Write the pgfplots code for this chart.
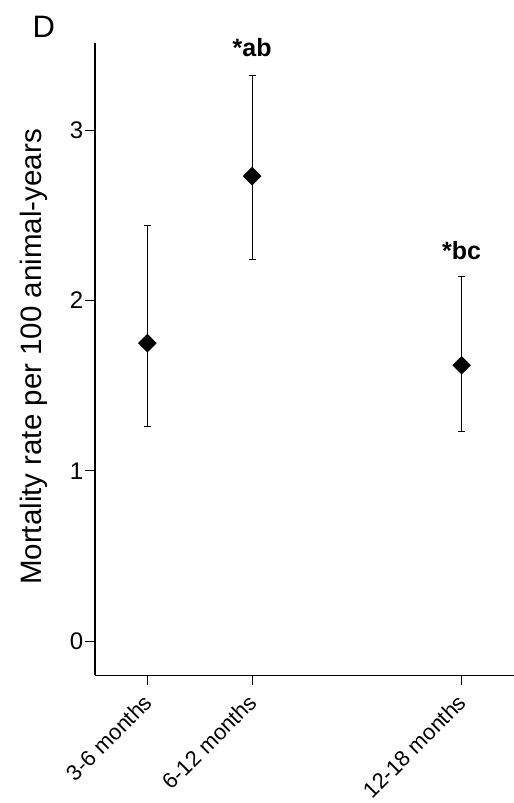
\documentclass[border=0pt]{standalone}
\usepackage{fontspec}
\setmainfont{Liberation Sans}
\usepackage{pgfplots}
\usepackage{pgfplotstable}
\pgfplotsset{compat=1.18}
\pgfplotstableread{
x y ep em
1 1.75 0.69 0.49
2 2.73 0.59 0.49
4 1.62 0.52 0.39
}\datatable
\begin{document}
\begin{tikzpicture}
\begin{axis}[
  scale only axis,
  width=419pt, height=632pt,
  xmin=0.5, xmax=4.5,
  ymin=-0.2, ymax=3.51,
  axis lines=left,
  axis line style={-, line width=1.3pt, black},
  xtick={1,2,4},
  xticklabels={3-6 months,6-12 months,12-18 months},
  ytick={0,1,2,3},
  tick align=outside,
  major tick length=10pt,
  tick style={line width=1.1pt, black},
  /pgf/number format/assume math mode=true,
  yticklabel style={font=\fontsize{24}{28}\selectfont, inner sep=1.5pt},
  xticklabel style={font=\fontsize{22}{26}\selectfont, rotate=45, anchor=east, inner sep=2pt, xshift=-7pt, yshift=-10pt},
  ylabel={Mortality rate per 100 animal-years},
  ylabel style={font=\fontsize{29.5}{34}\selectfont, at={(axis description cs:0,0.5)}, anchor=base, yshift=53.3pt, xshift=2.3pt},
  clip=false,
]
\addplot[black, line width=1.2pt, only marks, mark=square*, mark size=6pt,
  mark options={rotate=45, fill=black},
  error bars/.cd, y dir=both, y explicit,
  error bar style={line width=1.2pt, black},
  error mark options={black, mark size=3.5pt, line width=1.2pt, rotate=90}]
  table[x=x, y=y, y error plus=ep, y error minus=em]{\datatable};
\node[anchor=base, font=\fontsize{25}{30}\selectfont\bfseries] at (axis cs:2,3.43) {*ab};
\node[anchor=base, font=\fontsize{25}{30}\selectfont\bfseries] at (axis cs:4,2.24) {*bc};
\coordinate (ll) at (rel axis cs:0,0);
\coordinate (ur) at (rel axis cs:1,1);
\end{axis}
\path (ll|-ur) ++(-62.5pt,6pt) node[anchor=base west, inner sep=0pt, font=\fontsize{31}{36}\selectfont] {D};
\pgfresetboundingbox
\path ([xshift=-95pt,yshift=-127.7pt]ll) rectangle ([yshift=43.3pt]ur);
\end{tikzpicture}
\end{document}
